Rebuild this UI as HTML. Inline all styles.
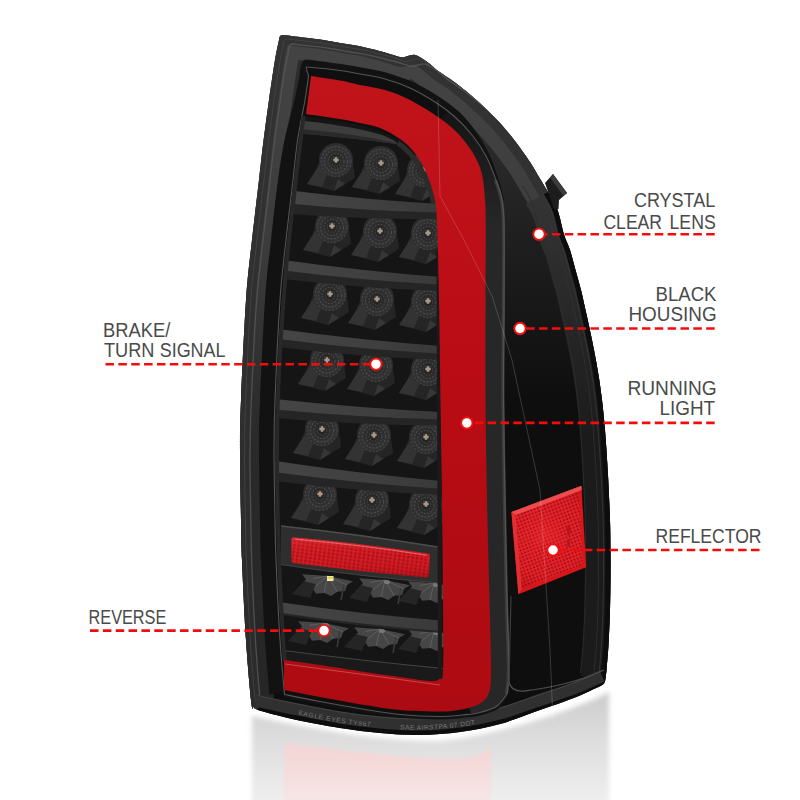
<!DOCTYPE html>
<html lang="en"><head><meta charset="utf-8"><title>Tail light features</title>
<style>html,body{margin:0;padding:0;background:#fff}body{width:800px;height:800px;overflow:hidden;font-family:"Liberation Sans",sans-serif}svg{display:block}text{font-family:"Liberation Sans",sans-serif;fill:#4a4a4a}</style>
</head><body>
<svg width="800" height="800" viewBox="0 0 800 800">
<defs>
<linearGradient id="shelfG" x1="0" y1="0" x2="1" y2="0"><stop offset="0" stop-color="#454545"/><stop offset=".6" stop-color="#3f3f3f"/><stop offset="1" stop-color="#393939"/></linearGradient>
<radialGradient id="ledG" cx=".5" cy=".5" r=".5" fx=".5" fy=".52"><stop offset="0" stop-color="#1b1b1b"/><stop offset=".3" stop-color="#282828"/><stop offset=".8" stop-color="#333"/><stop offset="1" stop-color="#2a2a2a"/></radialGradient>
<linearGradient id="redG" x1="0" y1="0" x2="0" y2="1"><stop offset="0" stop-color="#c0131a"/><stop offset=".45" stop-color="#b90c14"/><stop offset="1" stop-color="#ad0b13"/></linearGradient><linearGradient id="sideG" gradientUnits="userSpaceOnUse" x1="0" y1="110" x2="0" y2="230"><stop offset="0" stop-color="#141414"/><stop offset="1" stop-color="#272727"/></linearGradient>
<linearGradient id="bezelG" x1="0" y1="0" x2="1" y2="0"><stop offset="0" stop-color="#2e2e2e"/><stop offset=".08" stop-color="#3a3a3a"/><stop offset=".16" stop-color="#1c1c1c"/><stop offset="1" stop-color="#101010"/></linearGradient>
<linearGradient id="reflG" gradientUnits="userSpaceOnUse" x1="0" y1="700" x2="0" y2="800"><stop offset="0" stop-color="#cfcfcf"/><stop offset=".35" stop-color="#dcdcdc"/><stop offset="1" stop-color="#eeeeee"/></linearGradient>
<linearGradient id="reflR" gradientUnits="userSpaceOnUse" x1="0" y1="740" x2="0" y2="800"><stop offset="0" stop-color="#f3d3d3"/><stop offset="1" stop-color="#f7e5e5"/></linearGradient><linearGradient id="rimG" gradientUnits="userSpaceOnUse" x1="0" y1="40" x2="0" y2="700"><stop offset="0" stop-color="#444"/><stop offset=".3" stop-color="#3c3c3c"/><stop offset=".6" stop-color="#2a2a2a"/><stop offset="1" stop-color="#262626"/></linearGradient><linearGradient id="rimG2" gradientUnits="userSpaceOnUse" x1="0" y1="40" x2="0" y2="700"><stop offset="0" stop-color="#333"/><stop offset=".5" stop-color="#2f2f2f"/><stop offset="1" stop-color="#2b2b2b"/></linearGradient><linearGradient id="rgtG" gradientUnits="userSpaceOnUse" x1="0" y1="190" x2="0" y2="440"><stop offset="0" stop-color="#353535"/><stop offset=".35" stop-color="#2b2b2b"/><stop offset="1" stop-color="#1b1b1b"/></linearGradient><linearGradient id="baseG" gradientUnits="userSpaceOnUse" x1="0" y1="130" x2="0" y2="400"><stop offset="0" stop-color="#2c2c2c"/><stop offset=".5" stop-color="#1c1c1c"/><stop offset="1" stop-color="#0e0e0e"/></linearGradient>
<pattern id="dots2" width="4.4" height="3.6" patternUnits="userSpaceOnUse" patternTransform="rotate(8)"><rect width="4.4" height="3.6" fill="#d31c24"/><circle cx="2.2" cy="1.8" r="1.25" fill="#a50f16"/></pattern><pattern id="dots3" width="3.4" height="3.4" patternUnits="userSpaceOnUse" patternTransform="rotate(-20)"><rect width="3.4" height="3.4" fill="#e6222a"/><circle cx="1.7" cy="1.7" r="1.05" fill="#9e0e14"/></pattern><linearGradient id="stripG" x1="0" y1="0" x2="0" y2="1"><stop offset="0" stop-color="#ff5a5a" stop-opacity=".25"/><stop offset=".5" stop-color="#e02028" stop-opacity="0"/><stop offset="1" stop-color="#700" stop-opacity=".35"/></linearGradient><radialGradient id="sideRG" gradientUnits="userSpaceOnUse" cx="545" cy="535" r="55"><stop offset="0" stop-color="#ff3a3a" stop-opacity=".35"/><stop offset=".6" stop-color="#e02028" stop-opacity="0"/><stop offset="1" stop-color="#800" stop-opacity=".3"/></radialGradient><pattern id="dots" width="3.2" height="3.2" patternUnits="userSpaceOnUse"><rect width="3.2" height="3.2" fill="#d41a1e"/><circle cx="1.6" cy="1.6" r="1" fill="#a90e12"/></pattern>
<clipPath id="clipOut"><path d="M253.0,709.0 C252.7,707.5 252.2,711.5 251.0,700.0 C249.8,688.5 247.5,663.3 246.0,640.0 C244.5,616.7 242.8,580.0 242.0,560.0 C241.2,540.0 241.3,538.3 241.0,520.0 C240.7,501.7 240.0,470.0 240.0,450.0 C240.0,430.0 240.0,425.0 241.0,400.0 C242.0,375.0 244.2,326.7 246.0,300.0 C247.8,273.3 249.8,260.0 252.0,240.0 C254.2,220.0 257.1,196.7 259.0,180.0 C260.9,163.3 261.9,153.3 263.6,140.0 C265.3,126.7 267.1,113.3 269.0,100.0 C270.9,86.7 273.3,70.0 275.0,60.0 C276.7,50.0 278.3,43.3 279.0,40.0 Q279,35 283,35 C289.2,35.8 310.5,38.2 320.0,39.5 C329.5,40.8 333.3,41.9 340.0,43.0 C346.7,44.1 352.5,44.7 360.0,46.3 C367.5,47.9 378.2,50.7 385.0,52.5 C391.8,54.3 397.2,56.7 401.0,57.3 C404.8,57.9 405.7,56.4 408.0,56.0 C410.3,55.6 412.6,54.5 415.0,55.0 C417.4,55.5 420.0,57.2 422.5,58.7 C425.0,60.2 427.5,62.0 430.0,64.0 C432.5,66.0 433.3,67.4 437.5,70.5 C441.7,73.6 449.6,78.5 455.0,82.5 C460.4,86.5 465.0,90.2 470.0,94.5 C475.0,98.8 480.0,103.2 485.0,108.0 C490.0,112.8 495.0,117.5 500.0,123.0 C505.0,128.5 510.0,134.5 515.0,141.0 C520.0,147.5 526.0,156.0 530.0,162.0 C534.0,168.0 536.0,172.0 539.0,177.0 C542.0,182.0 546.5,189.5 548.0,192.0 C549.6,195.0 554.8,202.9 557.5,210.0 C560.2,217.1 561.9,227.8 564.0,234.5 C566.1,241.2 568.1,244.1 570.0,250.0 C571.9,255.9 573.7,263.3 575.5,270.0 C577.3,276.7 579.3,283.3 581.0,290.0 C582.7,296.7 584.1,303.7 585.5,310.0 C586.9,316.3 588.1,321.3 589.5,328.0 C590.9,334.7 592.5,342.2 594.0,350.0 C595.5,357.8 597.2,366.7 598.5,375.0 C599.8,383.3 600.9,390.8 602.0,400.0 C603.1,409.2 604.0,417.5 605.0,430.0 C606.0,442.5 607.2,460.0 608.0,475.0 C608.8,490.0 609.6,507.5 610.0,520.0 C610.4,532.5 610.4,540.0 610.5,550.0 C610.6,560.0 610.6,570.0 610.5,580.0 C610.4,590.0 610.3,599.2 610.0,610.0 C609.7,620.8 609.1,635.0 608.5,645.0 C607.9,655.0 607.0,664.3 606.5,670.0 C606.0,675.7 605.7,677.5 605.5,679.0 Q605,684 601.5,685.5 C597.1,687.5 585.2,693.4 575.0,697.5 C564.8,701.6 552.5,705.6 540.0,710.0 C527.5,714.4 513.3,720.3 500.0,724.0 C486.7,727.7 473.3,730.2 460.0,732.0 C446.7,733.8 433.3,734.8 420.0,735.0 C406.7,735.2 393.3,734.2 380.0,733.0 C366.7,731.8 355.0,730.4 340.0,728.0 C325.0,725.6 303.7,721.5 290.0,718.5 C276.3,715.5 263.3,711.4 258.0,710.0 Q254,709 253,706 Z"/></clipPath>
<filter id="b2"><feGaussianBlur stdDeviation="1.5"/></filter><filter id="b3" x="-5%" y="-5%" width="110%" height="120%"><feGaussianBlur stdDeviation="2.5"/></filter>
<filter id="b6"><feGaussianBlur stdDeviation="6"/></filter>
</defs>
<rect width="800" height="800" fill="#fff"/>
<g filter="url(#b3)">
<path d="M252,716 C300,726 380,742 440,741 C500,734 570,712 609,692 L609,810 L252,810 Z" fill="url(#reflG)"/>
</g>
<g filter="url(#b2)">
<path d="M284,743 C340,750 420,760 462,758 C478,757 488,752 491,744 L491,810 L284,810 Z" fill="url(#reflR)"/>
</g>
<path d="M253.0,709.0 C252.7,707.5 252.2,711.5 251.0,700.0 C249.8,688.5 247.5,663.3 246.0,640.0 C244.5,616.7 242.8,580.0 242.0,560.0 C241.2,540.0 241.3,538.3 241.0,520.0 C240.7,501.7 240.0,470.0 240.0,450.0 C240.0,430.0 240.0,425.0 241.0,400.0 C242.0,375.0 244.2,326.7 246.0,300.0 C247.8,273.3 249.8,260.0 252.0,240.0 C254.2,220.0 257.1,196.7 259.0,180.0 C260.9,163.3 261.9,153.3 263.6,140.0 C265.3,126.7 267.1,113.3 269.0,100.0 C270.9,86.7 273.3,70.0 275.0,60.0 C276.7,50.0 278.3,43.3 279.0,40.0 Q279,35 283,35 C289.2,35.8 310.5,38.2 320.0,39.5 C329.5,40.8 333.3,41.9 340.0,43.0 C346.7,44.1 352.5,44.7 360.0,46.3 C367.5,47.9 378.2,50.7 385.0,52.5 C391.8,54.3 397.2,56.7 401.0,57.3 C404.8,57.9 405.7,56.4 408.0,56.0 C410.3,55.6 412.6,54.5 415.0,55.0 C417.4,55.5 420.0,57.2 422.5,58.7 C425.0,60.2 427.5,62.0 430.0,64.0 C432.5,66.0 433.3,67.4 437.5,70.5 C441.7,73.6 449.6,78.5 455.0,82.5 C460.4,86.5 465.0,90.2 470.0,94.5 C475.0,98.8 480.0,103.2 485.0,108.0 C490.0,112.8 495.0,117.5 500.0,123.0 C505.0,128.5 510.0,134.5 515.0,141.0 C520.0,147.5 526.0,156.0 530.0,162.0 C534.0,168.0 536.0,172.0 539.0,177.0 C542.0,182.0 546.5,189.5 548.0,192.0 C549.6,195.0 554.8,202.9 557.5,210.0 C560.2,217.1 561.9,227.8 564.0,234.5 C566.1,241.2 568.1,244.1 570.0,250.0 C571.9,255.9 573.7,263.3 575.5,270.0 C577.3,276.7 579.3,283.3 581.0,290.0 C582.7,296.7 584.1,303.7 585.5,310.0 C586.9,316.3 588.1,321.3 589.5,328.0 C590.9,334.7 592.5,342.2 594.0,350.0 C595.5,357.8 597.2,366.7 598.5,375.0 C599.8,383.3 600.9,390.8 602.0,400.0 C603.1,409.2 604.0,417.5 605.0,430.0 C606.0,442.5 607.2,460.0 608.0,475.0 C608.8,490.0 609.6,507.5 610.0,520.0 C610.4,532.5 610.4,540.0 610.5,550.0 C610.6,560.0 610.6,570.0 610.5,580.0 C610.4,590.0 610.3,599.2 610.0,610.0 C609.7,620.8 609.1,635.0 608.5,645.0 C607.9,655.0 607.0,664.3 606.5,670.0 C606.0,675.7 605.7,677.5 605.5,679.0 Q605,684 601.5,685.5 C597.1,687.5 585.2,693.4 575.0,697.5 C564.8,701.6 552.5,705.6 540.0,710.0 C527.5,714.4 513.3,720.3 500.0,724.0 C486.7,727.7 473.3,730.2 460.0,732.0 C446.7,733.8 433.3,734.8 420.0,735.0 C406.7,735.2 393.3,734.2 380.0,733.0 C366.7,731.8 355.0,730.4 340.0,728.0 C325.0,725.6 303.7,721.5 290.0,718.5 C276.3,715.5 263.3,711.4 258.0,710.0 Q254,709 253,706 Z" fill="url(#baseG)"/>
<g clip-path="url(#clipOut)">
<path d="M253.0,709.0 C252.7,707.5 252.2,711.5 251.0,700.0 C249.8,688.5 247.5,663.3 246.0,640.0 C244.5,616.7 242.8,580.0 242.0,560.0 C241.2,540.0 241.3,538.3 241.0,520.0 C240.7,501.7 240.0,470.0 240.0,450.0 C240.0,430.0 240.0,425.0 241.0,400.0 C242.0,375.0 244.2,326.7 246.0,300.0 C247.8,273.3 249.8,260.0 252.0,240.0 C254.2,220.0 257.1,196.7 259.0,180.0 C260.9,163.3 261.9,153.3 263.6,140.0 C265.3,126.7 267.1,113.3 269.0,100.0 C270.9,86.7 273.3,70.0 275.0,60.0 C276.7,50.0 278.3,43.3 279.0,40.0 Q279,35 283,35 C289.2,35.8 310.5,38.2 320.0,39.5 C329.5,40.8 333.3,41.9 340.0,43.0 C346.7,44.1 352.5,44.7 360.0,46.3 C367.5,47.9 378.2,50.7 385.0,52.5 C391.8,54.3 397.2,56.7 401.0,57.3 C404.8,57.9 405.7,56.4 408.0,56.0 C410.3,55.6 412.6,54.5 415.0,55.0 C417.4,55.5 420.0,57.2 422.5,58.7 C425.0,60.2 427.5,62.0 430.0,64.0 C432.5,66.0 433.3,67.4 437.5,70.5 C441.7,73.6 449.6,78.5 455.0,82.5 C460.4,86.5 465.0,90.2 470.0,94.5 C475.0,98.8 480.0,103.2 485.0,108.0 C490.0,112.8 495.0,117.5 500.0,123.0 C505.0,128.5 510.0,134.5 515.0,141.0 C520.0,147.5 526.0,156.0 530.0,162.0 C534.0,168.0 536.0,172.0 539.0,177.0 C542.0,182.0 546.5,189.5 548.0,192.0" fill="none" stroke="url(#rimG)" stroke-width="46" stroke-linejoin="round" stroke-linecap="round"/>
<path d="M253.0,709.0 C252.7,707.5 252.2,711.5 251.0,700.0 C249.8,688.5 247.5,663.3 246.0,640.0 C244.5,616.7 242.8,580.0 242.0,560.0 C241.2,540.0 241.3,538.3 241.0,520.0 C240.7,501.7 240.0,470.0 240.0,450.0 C240.0,430.0 240.0,425.0 241.0,400.0 C242.0,375.0 244.2,326.7 246.0,300.0 C247.8,273.3 249.8,260.0 252.0,240.0 C254.2,220.0 257.1,196.7 259.0,180.0 C260.9,163.3 261.9,153.3 263.6,140.0 C265.3,126.7 267.1,113.3 269.0,100.0 C270.9,86.7 273.3,70.0 275.0,60.0 C276.7,50.0 278.3,43.3 279.0,40.0 Q279,35 283,35 C289.2,35.8 310.5,38.2 320.0,39.5 C329.5,40.8 333.3,41.9 340.0,43.0 C346.7,44.1 352.5,44.7 360.0,46.3 C367.5,47.9 378.2,50.7 385.0,52.5 C391.8,54.3 397.2,56.7 401.0,57.3 C404.8,57.9 405.7,56.4 408.0,56.0 C410.3,55.6 412.6,54.5 415.0,55.0 C417.4,55.5 420.0,57.2 422.5,58.7 C425.0,60.2 427.5,62.0 430.0,64.0 C432.5,66.0 433.3,67.4 437.5,70.5 C441.7,73.6 449.6,78.5 455.0,82.5 C460.4,86.5 465.0,90.2 470.0,94.5 C475.0,98.8 480.0,103.2 485.0,108.0 C490.0,112.8 495.0,117.5 500.0,123.0 C505.0,128.5 510.0,134.5 515.0,141.0 C520.0,147.5 526.0,156.0 530.0,162.0 C534.0,168.0 536.0,172.0 539.0,177.0 C542.0,182.0 546.5,189.5 548.0,192.0" fill="none" stroke="url(#rimG2)" stroke-width="19" stroke-linejoin="round"/>
<path d="M253.0,709.0 C252.7,707.5 252.2,711.5 251.0,700.0 C249.8,688.5 247.5,663.3 246.0,640.0 C244.5,616.7 242.8,580.0 242.0,560.0 C241.2,540.0 241.3,538.3 241.0,520.0 C240.7,501.7 240.0,470.0 240.0,450.0 C240.0,430.0 240.0,425.0 241.0,400.0 C242.0,375.0 244.2,326.7 246.0,300.0 C247.8,273.3 249.8,260.0 252.0,240.0 C254.2,220.0 257.1,196.7 259.0,180.0 C260.9,163.3 261.9,153.3 263.6,140.0 C265.3,126.7 267.1,113.3 269.0,100.0 C270.9,86.7 273.3,70.0 275.0,60.0 C276.7,50.0 278.3,43.3 279.0,40.0 Q279,35 283,35 C289.2,35.8 310.5,38.2 320.0,39.5 C329.5,40.8 333.3,41.9 340.0,43.0 C346.7,44.1 352.5,44.7 360.0,46.3 C367.5,47.9 378.2,50.7 385.0,52.5 C391.8,54.3 397.2,56.7 401.0,57.3 C404.8,57.9 405.7,56.4 408.0,56.0 C410.3,55.6 412.6,54.5 415.0,55.0 C417.4,55.5 420.0,57.2 422.5,58.7 C425.0,60.2 427.5,62.0 430.0,64.0 C432.5,66.0 433.3,67.4 437.5,70.5 C441.7,73.6 449.6,78.5 455.0,82.5 C460.4,86.5 465.0,90.2 470.0,94.5 C475.0,98.8 480.0,103.2 485.0,108.0 C490.0,112.8 495.0,117.5 500.0,123.0 C505.0,128.5 510.0,134.5 515.0,141.0 C520.0,147.5 526.0,156.0 530.0,162.0 C534.0,168.0 536.0,172.0 539.0,177.0 C542.0,182.0 546.5,189.5 548.0,192.0" fill="none" stroke="#565656" stroke-width="1.3" opacity=".85" transform="translate(10,9)"/>
<path d="M253.0,709.0 C252.7,707.5 252.2,711.5 251.0,700.0 C249.8,688.5 247.5,663.3 246.0,640.0 C244.5,616.7 242.8,580.0 242.0,560.0 C241.2,540.0 241.3,538.3 241.0,520.0 C240.7,501.7 240.0,470.0 240.0,450.0 C240.0,430.0 240.0,425.0 241.0,400.0 C242.0,375.0 244.2,326.7 246.0,300.0 C247.8,273.3 249.8,260.0 252.0,240.0 C254.2,220.0 257.1,196.7 259.0,180.0 C260.9,163.3 261.9,153.3 263.6,140.0 C265.3,126.7 267.1,113.3 269.0,100.0 C270.9,86.7 273.3,70.0 275.0,60.0 C276.7,50.0 278.3,43.3 279.0,40.0 Q279,35 283,35 C289.2,35.8 310.5,38.2 320.0,39.5 C329.5,40.8 333.3,41.9 340.0,43.0 C346.7,44.1 352.5,44.7 360.0,46.3 C367.5,47.9 378.2,50.7 385.0,52.5 C391.8,54.3 397.2,56.7 401.0,57.3 C404.8,57.9 405.7,56.4 408.0,56.0 C410.3,55.6 412.6,54.5 415.0,55.0 C417.4,55.5 420.0,57.2 422.5,58.7 C425.0,60.2 427.5,62.0 430.0,64.0 C432.5,66.0 433.3,67.4 437.5,70.5 C441.7,73.6 449.6,78.5 455.0,82.5 C460.4,86.5 465.0,90.2 470.0,94.5 C475.0,98.8 480.0,103.2 485.0,108.0 C490.0,112.8 495.0,117.5 500.0,123.0 C505.0,128.5 510.0,134.5 515.0,141.0 C520.0,147.5 526.0,156.0 530.0,162.0 C534.0,168.0 536.0,172.0 539.0,177.0 C542.0,182.0 546.5,189.5 548.0,192.0" fill="none" stroke="#484848" stroke-width="1" opacity=".7" transform="translate(4.5,4)"/>
<path d="M548.0,192.0 C549.6,195.0 554.8,202.9 557.5,210.0 C560.2,217.1 561.9,227.8 564.0,234.5 C566.1,241.2 568.1,244.1 570.0,250.0 C571.9,255.9 573.7,263.3 575.5,270.0 C577.3,276.7 579.3,283.3 581.0,290.0 C582.7,296.7 584.1,303.7 585.5,310.0 C586.9,316.3 588.1,321.3 589.5,328.0 C590.9,334.7 592.5,342.2 594.0,350.0 C595.5,357.8 597.2,366.7 598.5,375.0 C599.8,383.3 600.9,390.8 602.0,400.0 C603.1,409.2 604.0,417.5 605.0,430.0 C606.0,442.5 607.2,460.0 608.0,475.0 C608.8,490.0 609.6,507.5 610.0,520.0 C610.4,532.5 610.4,540.0 610.5,550.0 C610.6,560.0 610.6,570.0 610.5,580.0 C610.4,590.0 610.3,599.2 610.0,610.0 C609.7,620.8 609.1,635.0 608.5,645.0 C607.9,655.0 607.0,664.3 606.5,670.0 C606.0,675.7 605.7,677.5 605.5,679.0" fill="none" stroke="url(#rgtG)" stroke-width="50"/>
<path d="M548.0,192.0 C549.6,195.0 554.8,202.9 557.5,210.0 C560.2,217.1 561.9,227.8 564.0,234.5 C566.1,241.2 568.1,244.1 570.0,250.0 C571.9,255.9 573.7,263.3 575.5,270.0 C577.3,276.7 579.3,283.3 581.0,290.0 C582.7,296.7 584.1,303.7 585.5,310.0 C586.9,316.3 588.1,321.3 589.5,328.0 C590.9,334.7 592.5,342.2 594.0,350.0 C595.5,357.8 597.2,366.7 598.5,375.0 C599.8,383.3 600.9,390.8 602.0,400.0 C603.1,409.2 604.0,417.5 605.0,430.0 C606.0,442.5 607.2,460.0 608.0,475.0 C608.8,490.0 609.6,507.5 610.0,520.0 C610.4,532.5 610.4,540.0 610.5,550.0 C610.6,560.0 610.6,570.0 610.5,580.0 C610.4,590.0 610.3,599.2 610.0,610.0 C609.7,620.8 609.1,635.0 608.5,645.0 C607.9,655.0 607.0,664.3 606.5,670.0 C606.0,675.7 605.7,677.5 605.5,679.0 Q605,684 601.5,685.5 C597.1,687.5 585.2,693.4 575.0,697.5 C564.8,701.6 552.5,705.6 540.0,710.0 C527.5,714.4 513.3,720.3 500.0,724.0 C486.7,727.7 473.3,730.2 460.0,732.0 C446.7,733.8 433.3,734.8 420.0,735.0 C406.7,735.2 393.3,734.2 380.0,733.0 C366.7,731.8 355.0,730.4 340.0,728.0 C325.0,725.6 303.7,721.5 290.0,718.5 C276.3,715.5 263.3,711.4 258.0,710.0" fill="none" stroke="#0d0d0d" stroke-width="10"/>
<path d="M548.0,192.0 C549.6,195.0 554.8,202.9 557.5,210.0 C560.2,217.1 561.9,227.8 564.0,234.5 C566.1,241.2 568.1,244.1 570.0,250.0 C571.9,255.9 573.7,263.3 575.5,270.0 C577.3,276.7 579.3,283.3 581.0,290.0 C582.7,296.7 584.1,303.7 585.5,310.0 C586.9,316.3 588.1,321.3 589.5,328.0 C590.9,334.7 592.5,342.2 594.0,350.0 C595.5,357.8 597.2,366.7 598.5,375.0 C599.8,383.3 600.9,390.8 602.0,400.0 C603.1,409.2 604.0,417.5 605.0,430.0 C606.0,442.5 607.2,460.0 608.0,475.0 C608.8,490.0 609.6,507.5 610.0,520.0 C610.4,532.5 610.4,540.0 610.5,550.0 C610.6,560.0 610.6,570.0 610.5,580.0 C610.4,590.0 610.3,599.2 610.0,610.0 C609.7,620.8 609.1,635.0 608.5,645.0 C607.9,655.0 607.0,664.3 606.5,670.0 C606.0,675.7 605.7,677.5 605.5,679.0" fill="none" stroke="#3c3c3c" stroke-width="1" opacity=".75" transform="translate(-7,-2)"/>
<path d="M548.0,192.0 C549.6,195.0 554.8,202.9 557.5,210.0 C560.2,217.1 561.9,227.8 564.0,234.5 C566.1,241.2 568.1,244.1 570.0,250.0 C571.9,255.9 573.7,263.3 575.5,270.0 C577.3,276.7 579.3,283.3 581.0,290.0 C582.7,296.7 584.1,303.7 585.5,310.0 C586.9,316.3 588.1,321.3 589.5,328.0 C590.9,334.7 592.5,342.2 594.0,350.0 C595.5,357.8 597.2,366.7 598.5,375.0 C599.8,383.3 600.9,390.8 602.0,400.0 C603.1,409.2 604.0,417.5 605.0,430.0 C606.0,442.5 607.2,460.0 608.0,475.0 C608.8,490.0 609.6,507.5 610.0,520.0 C610.4,532.5 610.4,540.0 610.5,550.0 C610.6,560.0 610.6,570.0 610.5,580.0 C610.4,590.0 610.3,599.2 610.0,610.0 C609.7,620.8 609.1,635.0 608.5,645.0 C607.9,655.0 607.0,664.3 606.5,670.0 C606.0,675.7 605.7,677.5 605.5,679.0" fill="none" stroke="#353535" stroke-width="1" opacity=".7" transform="translate(-12,-3)"/>
<path d="M548.0,192.0 C549.6,195.0 554.8,202.9 557.5,210.0 C560.2,217.1 561.9,227.8 564.0,234.5 C566.1,241.2 568.1,244.1 570.0,250.0 C571.9,255.9 573.7,263.3 575.5,270.0 C577.3,276.7 579.3,283.3 581.0,290.0 C582.7,296.7 584.1,303.7 585.5,310.0 C586.9,316.3 588.1,321.3 589.5,328.0 C590.9,334.7 592.5,342.2 594.0,350.0 C595.5,357.8 597.2,366.7 598.5,375.0 C599.8,383.3 600.9,390.8 602.0,400.0 C603.1,409.2 604.0,417.5 605.0,430.0 C606.0,442.5 607.2,460.0 608.0,475.0 C608.8,490.0 609.6,507.5 610.0,520.0 C610.4,532.5 610.4,540.0 610.5,550.0 C610.6,560.0 610.6,570.0 610.5,580.0 C610.4,590.0 610.3,599.2 610.0,610.0 C609.7,620.8 609.1,635.0 608.5,645.0 C607.9,655.0 607.0,664.3 606.5,670.0 C606.0,675.7 605.7,677.5 605.5,679.0" fill="none" stroke="#2e2e2e" stroke-width="1.2" opacity=".8" transform="translate(-25,-6)"/>
<path d="M256.0,700.0 C257.0,700.3 256.3,700.7 262.0,702.0 C267.7,703.3 277.0,705.4 290.0,708.0 C303.0,710.6 325.0,715.1 340.0,717.5 C355.0,719.9 366.7,721.3 380.0,722.5 C393.3,723.7 406.7,724.7 420.0,724.5 C433.3,724.3 446.7,723.3 460.0,721.5 C473.3,719.7 486.7,717.1 500.0,713.5 C513.3,709.9 527.5,704.2 540.0,700.0 C552.5,695.8 564.7,692.0 575.0,688.0 C585.3,684.0 597.5,678.0 602.0,676.0" fill="none" stroke="#303030" stroke-width="12"/>
<path d="M256.0,700.0 C257.0,700.3 256.3,700.7 262.0,702.0 C267.7,703.3 277.0,705.4 290.0,708.0 C303.0,710.6 325.0,715.1 340.0,717.5 C355.0,719.9 366.7,721.3 380.0,722.5 C393.3,723.7 406.7,724.7 420.0,724.5 C433.3,724.3 446.7,723.3 460.0,721.5 C473.3,719.7 486.7,717.1 500.0,713.5 C513.3,709.9 527.5,704.2 540.0,700.0 C552.5,695.8 564.7,692.0 575.0,688.0 C585.3,684.0 597.5,678.0 602.0,676.0" fill="none" stroke="#4a4a4a" stroke-width="1" opacity=".8" transform="translate(0,-5.5)"/>
<path id="botp" d="M262.0,702.0 C266.7,703.0 277.0,705.4 290.0,708.0 C303.0,710.6 325.0,715.1 340.0,717.5 C355.0,719.9 366.7,721.3 380.0,722.5 C393.3,723.7 406.7,724.7 420.0,724.5 C433.3,724.3 446.7,723.3 460.0,721.5 C473.3,719.7 486.7,717.1 500.0,713.5 C513.3,709.9 527.5,704.2 540.0,700.0 C552.5,695.8 564.7,692.0 575.0,688.0 C585.3,684.0 597.5,678.0 602.0,676.0" fill="none" transform="translate(0,2.6)"/>
<text font-size="6.6" letter-spacing=".7" style="fill:#777" transform="translate(0,2.6)"><textPath href="#botp" startOffset="37">EAGLE EYES TY967</textPath></text>
<text font-size="6.6" letter-spacing=".5" style="fill:#777" transform="translate(0,2.6)"><textPath href="#botp" startOffset="140">SAE AIRSTPA 07 DOT</textPath></text>
</g>
<path d="M545,183 L553,174 L567,193 L559,200 L558.5,209 L554,209 Z" fill="#1d1d1d"/>
<path d="M553,174 L567,193 L563.5,196 L550,177.5 Z" fill="#3c3c3c"/>
<g clip-path="url(#clipOut)">
<path d="M269.5,694.5 C268.8,685.4 266.4,662.4 265.0,640.0 C263.6,617.6 261.8,580.0 261.0,560.0 C260.2,540.0 260.3,538.3 260.0,520.0 C259.7,501.7 259.0,470.0 259.0,450.0 C259.0,430.0 259.0,425.0 260.0,400.0 C261.0,375.0 263.2,326.7 265.0,300.0 C266.8,273.3 268.8,260.0 271.0,240.0 C273.2,220.0 275.7,196.7 278.0,180.0 C280.3,163.3 281.8,153.3 284.5,140.0 C287.3,126.7 292.0,110.7 294.5,100.0 C297.0,89.3 298.7,80.0 299.6,76.0 Q300.6,59 306.6,59.5 C312.3,60.3 331.8,62.7 340.9,64.1 C350.0,65.4 353.6,66.2 361.2,67.6 C368.9,69.1 378.2,70.3 386.8,72.7 C395.3,75.2 404.1,78.1 412.7,82.1 C421.3,86.1 430.8,91.5 438.5,96.5 C446.3,101.5 453.1,106.3 459.3,112.1 C465.6,118.0 471.1,124.7 476.1,131.8 C481.1,138.8 485.5,146.4 489.2,154.3 C493.0,162.2 496.0,171.6 498.4,179.1 C500.9,186.6 503.0,196.1 503.9,199.4 L470,300 L300,690 Z" fill="#121212"/>
<path d="M507.0,694.0 C505.3,696.0 501.5,702.9 497.0,706.0 C492.5,709.1 485.8,711.0 480.0,712.5 C474.2,714.0 468.7,714.3 462.0,715.0 C455.3,715.7 450.3,716.6 440.0,716.5 C429.7,716.4 412.5,715.7 400.0,714.5 C387.5,713.3 378.3,711.7 365.0,709.5 C351.7,707.3 333.4,704.0 320.0,701.5 C306.6,699.0 290.5,695.7 284.5,694.5" fill="none" stroke="#131313" stroke-width="6"/>
<clipPath id="clipLoop"><path d="M284.5,694.5 C283.8,685.4 281.4,662.4 280.0,640.0 C278.6,617.6 276.8,580.0 276.0,560.0 C275.2,540.0 275.3,538.3 275.0,520.0 C274.7,501.7 274.0,470.0 274.0,450.0 C274.0,430.0 274.0,425.0 275.0,400.0 C276.0,375.0 278.2,326.7 280.0,300.0 C281.8,273.3 283.8,260.0 286.0,240.0 C288.2,220.0 291.1,196.7 293.0,180.0 C294.9,163.3 295.6,153.3 297.6,140.0 C299.6,126.7 303.2,110.7 305.0,100.0 C306.8,89.3 308.0,80.0 308.6,76.0 Q305,66 307,67 C312.5,67.6 331.2,69.3 340.0,70.5 C348.8,71.7 352.5,72.6 360.0,74.0 C367.5,75.4 376.7,76.7 385.0,79.0 C393.3,81.3 401.7,84.2 410.0,88.0 C418.3,91.8 427.5,97.2 435.0,102.0 C442.5,106.8 448.8,111.5 455.0,117.0 C461.2,122.5 466.8,128.5 472.0,135.0 C477.2,141.5 482.0,148.5 486.0,156.0 C490.0,163.5 493.3,172.7 496.0,180.0 C498.7,187.3 500.7,192.5 502.0,200.0 C503.3,207.5 503.7,208.3 504.0,225.0 C504.3,241.7 504.1,270.8 504.0,300.0 C503.9,329.2 503.3,366.7 503.5,400.0 C503.7,433.3 504.4,466.7 505.0,500.0 C505.6,533.3 506.3,571.7 507.0,600.0 C507.7,628.3 509.0,654.3 509.0,670.0 C509.0,685.7 507.3,690.0 507.0,694.0 C505.3,696.0 501.5,702.9 497.0,706.0 C492.5,709.1 485.8,711.0 480.0,712.5 C474.2,714.0 468.7,714.3 462.0,715.0 C455.3,715.7 450.3,716.6 440.0,716.5 C429.7,716.4 412.5,715.7 400.0,714.5 C387.5,713.3 378.3,711.7 365.0,709.5 C351.7,707.3 333.4,704.0 320.0,701.5 C306.6,699.0 290.5,695.7 284.5,694.5 Z"/></clipPath>
<path d="M284.5,694.5 C283.8,685.4 281.4,662.4 280.0,640.0 C278.6,617.6 276.8,580.0 276.0,560.0 C275.2,540.0 275.3,538.3 275.0,520.0 C274.7,501.7 274.0,470.0 274.0,450.0 C274.0,430.0 274.0,425.0 275.0,400.0 C276.0,375.0 278.2,326.7 280.0,300.0 C281.8,273.3 283.8,260.0 286.0,240.0 C288.2,220.0 291.1,196.7 293.0,180.0 C294.9,163.3 295.6,153.3 297.6,140.0 C299.6,126.7 303.2,110.7 305.0,100.0 C306.8,89.3 308.0,80.0 308.6,76.0 Q305,66 307,67 C312.5,67.6 331.2,69.3 340.0,70.5 C348.8,71.7 352.5,72.6 360.0,74.0 C367.5,75.4 376.7,76.7 385.0,79.0 C393.3,81.3 401.7,84.2 410.0,88.0 C418.3,91.8 427.5,97.2 435.0,102.0 C442.5,106.8 448.8,111.5 455.0,117.0 C461.2,122.5 466.8,128.5 472.0,135.0 C477.2,141.5 482.0,148.5 486.0,156.0 C490.0,163.5 493.3,172.7 496.0,180.0 C498.7,187.3 500.7,192.5 502.0,200.0 C503.3,207.5 503.7,208.3 504.0,225.0 C504.3,241.7 504.1,270.8 504.0,300.0 C503.9,329.2 503.3,366.7 503.5,400.0 C503.7,433.3 504.4,466.7 505.0,500.0 C505.6,533.3 506.3,571.7 507.0,600.0 C507.7,628.3 509.0,654.3 509.0,670.0 C509.0,685.7 507.3,690.0 507.0,694.0 C505.3,696.0 501.5,702.9 497.0,706.0 C492.5,709.1 485.8,711.0 480.0,712.5 C474.2,714.0 468.7,714.3 462.0,715.0 C455.3,715.7 450.3,716.6 440.0,716.5 C429.7,716.4 412.5,715.7 400.0,714.5 C387.5,713.3 378.3,711.7 365.0,709.5 C351.7,707.3 333.4,704.0 320.0,701.5 C306.6,699.0 290.5,695.7 284.5,694.5 Z" fill="#0f0f0f"/>
<g clip-path="url(#clipLoop)"><path d="M455.0,117.0 C457.8,120.0 466.8,128.5 472.0,135.0 C477.2,141.5 482.0,148.5 486.0,156.0 C490.0,163.5 493.3,172.7 496.0,180.0 C498.7,187.3 500.7,192.5 502.0,200.0 C503.3,207.5 503.7,208.3 504.0,225.0 C504.3,241.7 504.1,270.8 504.0,300.0 C503.9,329.2 503.3,366.7 503.5,400.0 C503.7,433.3 504.4,466.7 505.0,500.0 C505.6,533.3 506.3,571.7 507.0,600.0 C507.7,628.3 509.0,654.3 509.0,670.0 C509.0,685.7 507.3,690.0 507.0,694.0 C505.3,696.0 501.5,702.9 497.0,706.0 C492.5,709.1 482.8,711.4 480.0,712.5" fill="none" stroke="url(#sideG)" stroke-width="26" transform="translate(-10,-2)"/></g>
<path d="M496.0,180.0 C497.0,183.3 500.7,192.5 502.0,200.0 C503.3,207.5 503.7,208.3 504.0,225.0 C504.3,241.7 504.1,270.8 504.0,300.0 C503.9,329.2 503.3,366.7 503.5,400.0 C503.7,433.3 504.4,466.7 505.0,500.0 C505.6,533.3 506.3,571.7 507.0,600.0 C507.7,628.3 509.0,654.3 509.0,670.0 C509.0,685.7 507.3,690.0 507.0,694.0" fill="none" stroke="#3c3c3c" stroke-width="3.2" transform="translate(-.6,0)"/>
<path d="M284.5,694.5 C283.8,685.4 281.4,662.4 280.0,640.0 C278.6,617.6 276.8,580.0 276.0,560.0 C275.2,540.0 275.3,538.3 275.0,520.0 C274.7,501.7 274.0,470.0 274.0,450.0 C274.0,430.0 274.0,425.0 275.0,400.0 C276.0,375.0 278.2,326.7 280.0,300.0 C281.8,273.3 283.8,260.0 286.0,240.0 C288.2,220.0 291.1,196.7 293.0,180.0 C294.9,163.3 295.6,153.3 297.6,140.0 C299.6,126.7 303.2,110.7 305.0,100.0 C306.8,89.3 308.0,80.0 308.6,76.0 Q305,66 307,67 C312.5,67.6 331.2,69.3 340.0,70.5 C348.8,71.7 352.5,72.6 360.0,74.0 C367.5,75.4 376.7,76.7 385.0,79.0 C393.3,81.3 401.7,84.2 410.0,88.0 C418.3,91.8 427.5,97.2 435.0,102.0 C442.5,106.8 448.8,111.5 455.0,117.0 C461.2,122.5 466.8,128.5 472.0,135.0 C477.2,141.5 482.0,148.5 486.0,156.0 C490.0,163.5 493.3,172.7 496.0,180.0 C498.7,187.3 500.7,192.5 502.0,200.0 C503.3,207.5 503.7,208.3 504.0,225.0 C504.3,241.7 504.1,270.8 504.0,300.0 C503.9,329.2 503.3,366.7 503.5,400.0 C503.7,433.3 504.4,466.7 505.0,500.0 C505.6,533.3 506.3,571.7 507.0,600.0 C507.7,628.3 509.0,654.3 509.0,670.0 C509.0,685.7 507.3,690.0 507.0,694.0 C505.3,696.0 501.5,702.9 497.0,706.0 C492.5,709.1 485.8,711.0 480.0,712.5 C474.2,714.0 468.7,714.3 462.0,715.0 C455.3,715.7 450.3,716.6 440.0,716.5 C429.7,716.4 412.5,715.7 400.0,714.5 C387.5,713.3 378.3,711.7 365.0,709.5 C351.7,707.3 333.4,704.0 320.0,701.5 C306.6,699.0 290.5,695.7 284.5,694.5 Z" fill="none" stroke="#555" stroke-width="1.1"/>
</g>
<clipPath id="clipCh"><path d="M301.8,116 C300.9,123.3 298.0,146.0 296.3,160.0 C294.6,174.0 293.6,183.3 291.7,200.0 C289.8,216.7 287.0,238.3 285.0,260.0 C283.0,281.7 281.0,306.7 279.5,330.0 C278.0,353.3 276.7,378.3 276.0,400.0 C275.3,421.7 275.1,438.3 275.1,460.0 C275.2,481.7 275.6,506.7 276.2,530.0 C276.9,553.3 277.9,578.0 279.0,600.0 C280.1,622.0 282.2,651.7 282.8,662.0 L444,684 L442,240 C441.3,233.3 440.3,211.3 438.0,200.0 C435.7,188.7 432.0,180.0 428.0,172.0 C424.0,164.0 419.0,157.5 414.0,152.0 C409.0,146.5 405.3,143.0 398.0,139.0 C390.7,135.0 379.7,131.0 370.0,128.0 C360.3,125.0 351.4,123.0 340.0,121.0 C328.6,119.0 308.2,116.8 301.8,116.0 Z"/></clipPath>
<path d="M301.8,116 C300.9,123.3 298.0,146.0 296.3,160.0 C294.6,174.0 293.6,183.3 291.7,200.0 C289.8,216.7 287.0,238.3 285.0,260.0 C283.0,281.7 281.0,306.7 279.5,330.0 C278.0,353.3 276.7,378.3 276.0,400.0 C275.3,421.7 275.1,438.3 275.1,460.0 C275.2,481.7 275.6,506.7 276.2,530.0 C276.9,553.3 277.9,578.0 279.0,600.0 C280.1,622.0 282.2,651.7 282.8,662.0 L444,684 L442,240 C441.3,233.3 440.3,211.3 438.0,200.0 C435.7,188.7 432.0,180.0 428.0,172.0 C424.0,164.0 419.0,157.5 414.0,152.0 C409.0,146.5 405.3,143.0 398.0,139.0 C390.7,135.0 379.7,131.0 370.0,128.0 C360.3,125.0 351.4,123.0 340.0,121.0 C328.6,119.0 308.2,116.8 301.8,116.0 Z" fill="#151515"/>
<g clip-path="url(#clipCh)">
<path d="M408.0,168.0 C405.0,180.0 399.0,188.0 395.0,194.0 L422.0,201.0 L443.0,188.0 C442.0,180.0 441.0,172.0 440.0,168.0 Z" fill="#252525"/><path d="M422.0,201.0 L426.0,189.0 L433.0,194.0 Z" fill="#363636"/><path d="M408.0,174.0 L395.0,194.0 L410.0,197.0 L415.0,185.0 Z" fill="#333"/><circle cx="424.0" cy="170.0" r="17" fill="url(#ledG)"/><circle cx="424.0" cy="171.5" r="15.0" fill="none" stroke="#6a6a6a" stroke-width="1.1" stroke-dasharray="2.2 1.6" opacity="0.42"/><circle cx="424.0" cy="171.5" r="11.5" fill="none" stroke="#6a6a6a" stroke-width="1.1" stroke-dasharray="2 1.5" opacity="0.48"/><circle cx="424.0" cy="171.5" r="8.0" fill="none" stroke="#6a6a6a" stroke-width="1.1" stroke-dasharray="1.8 1.4" opacity="0.48"/><circle cx="424.0" cy="171.5" r="4.8" fill="none" stroke="#6a6a6a" stroke-width="1.1" stroke-dasharray="1.5 1.2" opacity="0.42"/><path d="M422.7,167.3 h2.6 v1.4 h1.4 v2.6 h-1.4 v1.4 h-2.6 v-1.4 h-1.4 v-2.6 h1.4 z" fill="#a89888"/>
<path d="M365.0,161.0 C362.0,173.0 356.0,181.0 352.0,187.0 L379.0,194.0 L400.0,181.0 C399.0,173.0 398.0,165.0 397.0,161.0 Z" fill="#252525"/><path d="M379.0,194.0 L383.0,182.0 L390.0,187.0 Z" fill="#363636"/><path d="M365.0,167.0 L352.0,187.0 L367.0,190.0 L372.0,178.0 Z" fill="#333"/><circle cx="381.0" cy="163.0" r="17" fill="url(#ledG)"/><circle cx="381.0" cy="164.5" r="15.0" fill="none" stroke="#6a6a6a" stroke-width="1.1" stroke-dasharray="2.2 1.6" opacity="0.42"/><circle cx="381.0" cy="164.5" r="11.5" fill="none" stroke="#6a6a6a" stroke-width="1.1" stroke-dasharray="2 1.5" opacity="0.48"/><circle cx="381.0" cy="164.5" r="8.0" fill="none" stroke="#6a6a6a" stroke-width="1.1" stroke-dasharray="1.8 1.4" opacity="0.48"/><circle cx="381.0" cy="164.5" r="4.8" fill="none" stroke="#6a6a6a" stroke-width="1.1" stroke-dasharray="1.5 1.2" opacity="0.42"/><path d="M379.7,160.3 h2.6 v1.4 h1.4 v2.6 h-1.4 v1.4 h-2.6 v-1.4 h-1.4 v-2.6 h1.4 z" fill="#a89888"/>
<path d="M320.0,158.0 C317.0,170.0 311.0,178.0 307.0,184.0 L334.0,191.0 L355.0,178.0 C354.0,170.0 353.0,162.0 352.0,158.0 Z" fill="#252525"/><path d="M334.0,191.0 L338.0,179.0 L345.0,184.0 Z" fill="#363636"/><path d="M320.0,164.0 L307.0,184.0 L322.0,187.0 L327.0,175.0 Z" fill="#333"/><circle cx="336.0" cy="160.0" r="17" fill="url(#ledG)"/><circle cx="336.0" cy="161.5" r="15.0" fill="none" stroke="#6a6a6a" stroke-width="1.1" stroke-dasharray="2.2 1.6" opacity="0.42"/><circle cx="336.0" cy="161.5" r="11.5" fill="none" stroke="#6a6a6a" stroke-width="1.1" stroke-dasharray="2 1.5" opacity="0.48"/><circle cx="336.0" cy="161.5" r="8.0" fill="none" stroke="#6a6a6a" stroke-width="1.1" stroke-dasharray="1.8 1.4" opacity="0.48"/><circle cx="336.0" cy="161.5" r="4.8" fill="none" stroke="#6a6a6a" stroke-width="1.1" stroke-dasharray="1.5 1.2" opacity="0.42"/><path d="M334.7,157.3 h2.6 v1.4 h1.4 v2.6 h-1.4 v1.4 h-2.6 v-1.4 h-1.4 v-2.6 h1.4 z" fill="#a89888"/>
<path d="M412.0,231.0 C409.0,243.0 403.0,251.0 399.0,257.0 L426.0,264.0 L447.0,251.0 C446.0,243.0 445.0,235.0 444.0,231.0 Z" fill="#252525"/><path d="M426.0,264.0 L430.0,252.0 L437.0,257.0 Z" fill="#363636"/><path d="M412.0,237.0 L399.0,257.0 L414.0,260.0 L419.0,248.0 Z" fill="#333"/><circle cx="428.0" cy="233.0" r="17" fill="url(#ledG)"/><circle cx="428.0" cy="234.5" r="15.0" fill="none" stroke="#6a6a6a" stroke-width="1.1" stroke-dasharray="2.2 1.6" opacity="0.42"/><circle cx="428.0" cy="234.5" r="11.5" fill="none" stroke="#6a6a6a" stroke-width="1.1" stroke-dasharray="2 1.5" opacity="0.48"/><circle cx="428.0" cy="234.5" r="8.0" fill="none" stroke="#6a6a6a" stroke-width="1.1" stroke-dasharray="1.8 1.4" opacity="0.48"/><circle cx="428.0" cy="234.5" r="4.8" fill="none" stroke="#6a6a6a" stroke-width="1.1" stroke-dasharray="1.5 1.2" opacity="0.42"/><path d="M426.7,230.3 h2.6 v1.4 h1.4 v2.6 h-1.4 v1.4 h-2.6 v-1.4 h-1.4 v-2.6 h1.4 z" fill="#a89888"/>
<path d="M364.0,229.0 C361.0,241.0 355.0,249.0 351.0,255.0 L378.0,262.0 L399.0,249.0 C398.0,241.0 397.0,233.0 396.0,229.0 Z" fill="#252525"/><path d="M378.0,262.0 L382.0,250.0 L389.0,255.0 Z" fill="#363636"/><path d="M364.0,235.0 L351.0,255.0 L366.0,258.0 L371.0,246.0 Z" fill="#333"/><circle cx="380.0" cy="231.0" r="17" fill="url(#ledG)"/><circle cx="380.0" cy="232.5" r="15.0" fill="none" stroke="#6a6a6a" stroke-width="1.1" stroke-dasharray="2.2 1.6" opacity="0.42"/><circle cx="380.0" cy="232.5" r="11.5" fill="none" stroke="#6a6a6a" stroke-width="1.1" stroke-dasharray="2 1.5" opacity="0.48"/><circle cx="380.0" cy="232.5" r="8.0" fill="none" stroke="#6a6a6a" stroke-width="1.1" stroke-dasharray="1.8 1.4" opacity="0.48"/><circle cx="380.0" cy="232.5" r="4.8" fill="none" stroke="#6a6a6a" stroke-width="1.1" stroke-dasharray="1.5 1.2" opacity="0.42"/><path d="M378.7,228.3 h2.6 v1.4 h1.4 v2.6 h-1.4 v1.4 h-2.6 v-1.4 h-1.4 v-2.6 h1.4 z" fill="#a89888"/>
<path d="M316.0,224.0 C313.0,236.0 307.0,244.0 303.0,250.0 L330.0,257.0 L351.0,244.0 C350.0,236.0 349.0,228.0 348.0,224.0 Z" fill="#252525"/><path d="M330.0,257.0 L334.0,245.0 L341.0,250.0 Z" fill="#363636"/><path d="M316.0,230.0 L303.0,250.0 L318.0,253.0 L323.0,241.0 Z" fill="#333"/><circle cx="332.0" cy="226.0" r="17" fill="url(#ledG)"/><circle cx="332.0" cy="227.5" r="15.0" fill="none" stroke="#6a6a6a" stroke-width="1.1" stroke-dasharray="2.2 1.6" opacity="0.42"/><circle cx="332.0" cy="227.5" r="11.5" fill="none" stroke="#6a6a6a" stroke-width="1.1" stroke-dasharray="2 1.5" opacity="0.48"/><circle cx="332.0" cy="227.5" r="8.0" fill="none" stroke="#6a6a6a" stroke-width="1.1" stroke-dasharray="1.8 1.4" opacity="0.48"/><circle cx="332.0" cy="227.5" r="4.8" fill="none" stroke="#6a6a6a" stroke-width="1.1" stroke-dasharray="1.5 1.2" opacity="0.42"/><path d="M330.7,223.3 h2.6 v1.4 h1.4 v2.6 h-1.4 v1.4 h-2.6 v-1.4 h-1.4 v-2.6 h1.4 z" fill="#a89888"/>
<path d="M412.0,299.0 C409.0,311.0 403.0,319.0 399.0,325.0 L426.0,332.0 L447.0,319.0 C446.0,311.0 445.0,303.0 444.0,299.0 Z" fill="#252525"/><path d="M426.0,332.0 L430.0,320.0 L437.0,325.0 Z" fill="#363636"/><path d="M412.0,305.0 L399.0,325.0 L414.0,328.0 L419.0,316.0 Z" fill="#333"/><circle cx="428.0" cy="301.0" r="17" fill="url(#ledG)"/><circle cx="428.0" cy="302.5" r="15.0" fill="none" stroke="#6a6a6a" stroke-width="1.1" stroke-dasharray="2.2 1.6" opacity="0.42"/><circle cx="428.0" cy="302.5" r="11.5" fill="none" stroke="#6a6a6a" stroke-width="1.1" stroke-dasharray="2 1.5" opacity="0.48"/><circle cx="428.0" cy="302.5" r="8.0" fill="none" stroke="#6a6a6a" stroke-width="1.1" stroke-dasharray="1.8 1.4" opacity="0.48"/><circle cx="428.0" cy="302.5" r="4.8" fill="none" stroke="#6a6a6a" stroke-width="1.1" stroke-dasharray="1.5 1.2" opacity="0.42"/><path d="M426.7,298.3 h2.6 v1.4 h1.4 v2.6 h-1.4 v1.4 h-2.6 v-1.4 h-1.4 v-2.6 h1.4 z" fill="#a89888"/>
<path d="M361.0,297.0 C358.0,309.0 352.0,317.0 348.0,323.0 L375.0,330.0 L396.0,317.0 C395.0,309.0 394.0,301.0 393.0,297.0 Z" fill="#252525"/><path d="M375.0,330.0 L379.0,318.0 L386.0,323.0 Z" fill="#363636"/><path d="M361.0,303.0 L348.0,323.0 L363.0,326.0 L368.0,314.0 Z" fill="#333"/><circle cx="377.0" cy="299.0" r="17" fill="url(#ledG)"/><circle cx="377.0" cy="300.5" r="15.0" fill="none" stroke="#6a6a6a" stroke-width="1.1" stroke-dasharray="2.2 1.6" opacity="0.42"/><circle cx="377.0" cy="300.5" r="11.5" fill="none" stroke="#6a6a6a" stroke-width="1.1" stroke-dasharray="2 1.5" opacity="0.48"/><circle cx="377.0" cy="300.5" r="8.0" fill="none" stroke="#6a6a6a" stroke-width="1.1" stroke-dasharray="1.8 1.4" opacity="0.48"/><circle cx="377.0" cy="300.5" r="4.8" fill="none" stroke="#6a6a6a" stroke-width="1.1" stroke-dasharray="1.5 1.2" opacity="0.42"/><path d="M375.7,296.3 h2.6 v1.4 h1.4 v2.6 h-1.4 v1.4 h-2.6 v-1.4 h-1.4 v-2.6 h1.4 z" fill="#a89888"/>
<path d="M314.0,292.0 C311.0,304.0 305.0,312.0 301.0,318.0 L328.0,325.0 L349.0,312.0 C348.0,304.0 347.0,296.0 346.0,292.0 Z" fill="#252525"/><path d="M328.0,325.0 L332.0,313.0 L339.0,318.0 Z" fill="#363636"/><path d="M314.0,298.0 L301.0,318.0 L316.0,321.0 L321.0,309.0 Z" fill="#333"/><circle cx="330.0" cy="294.0" r="17" fill="url(#ledG)"/><circle cx="330.0" cy="295.5" r="15.0" fill="none" stroke="#6a6a6a" stroke-width="1.1" stroke-dasharray="2.2 1.6" opacity="0.42"/><circle cx="330.0" cy="295.5" r="11.5" fill="none" stroke="#6a6a6a" stroke-width="1.1" stroke-dasharray="2 1.5" opacity="0.48"/><circle cx="330.0" cy="295.5" r="8.0" fill="none" stroke="#6a6a6a" stroke-width="1.1" stroke-dasharray="1.8 1.4" opacity="0.48"/><circle cx="330.0" cy="295.5" r="4.8" fill="none" stroke="#6a6a6a" stroke-width="1.1" stroke-dasharray="1.5 1.2" opacity="0.42"/><path d="M328.7,291.3 h2.6 v1.4 h1.4 v2.6 h-1.4 v1.4 h-2.6 v-1.4 h-1.4 v-2.6 h1.4 z" fill="#a89888"/>
<path d="M412.0,367.0 C409.0,379.0 403.0,387.0 399.0,393.0 L426.0,400.0 L447.0,387.0 C446.0,379.0 445.0,371.0 444.0,367.0 Z" fill="#252525"/><path d="M426.0,400.0 L430.0,388.0 L437.0,393.0 Z" fill="#363636"/><path d="M412.0,373.0 L399.0,393.0 L414.0,396.0 L419.0,384.0 Z" fill="#333"/><circle cx="428.0" cy="369.0" r="17" fill="url(#ledG)"/><circle cx="428.0" cy="370.5" r="15.0" fill="none" stroke="#6a6a6a" stroke-width="1.1" stroke-dasharray="2.2 1.6" opacity="0.42"/><circle cx="428.0" cy="370.5" r="11.5" fill="none" stroke="#6a6a6a" stroke-width="1.1" stroke-dasharray="2 1.5" opacity="0.48"/><circle cx="428.0" cy="370.5" r="8.0" fill="none" stroke="#6a6a6a" stroke-width="1.1" stroke-dasharray="1.8 1.4" opacity="0.48"/><circle cx="428.0" cy="370.5" r="4.8" fill="none" stroke="#6a6a6a" stroke-width="1.1" stroke-dasharray="1.5 1.2" opacity="0.42"/><path d="M426.7,366.3 h2.6 v1.4 h1.4 v2.6 h-1.4 v1.4 h-2.6 v-1.4 h-1.4 v-2.6 h1.4 z" fill="#a89888"/>
<path d="M360.0,363.0 C357.0,375.0 351.0,383.0 347.0,389.0 L374.0,396.0 L395.0,383.0 C394.0,375.0 393.0,367.0 392.0,363.0 Z" fill="#252525"/><path d="M374.0,396.0 L378.0,384.0 L385.0,389.0 Z" fill="#363636"/><path d="M360.0,369.0 L347.0,389.0 L362.0,392.0 L367.0,380.0 Z" fill="#333"/><circle cx="376.0" cy="365.0" r="17" fill="url(#ledG)"/><circle cx="376.0" cy="366.5" r="15.0" fill="none" stroke="#6a6a6a" stroke-width="1.1" stroke-dasharray="2.2 1.6" opacity="0.42"/><circle cx="376.0" cy="366.5" r="11.5" fill="none" stroke="#6a6a6a" stroke-width="1.1" stroke-dasharray="2 1.5" opacity="0.48"/><circle cx="376.0" cy="366.5" r="8.0" fill="none" stroke="#6a6a6a" stroke-width="1.1" stroke-dasharray="1.8 1.4" opacity="0.48"/><circle cx="376.0" cy="366.5" r="4.8" fill="none" stroke="#6a6a6a" stroke-width="1.1" stroke-dasharray="1.5 1.2" opacity="0.42"/><path d="M374.7,362.3 h2.6 v1.4 h1.4 v2.6 h-1.4 v1.4 h-2.6 v-1.4 h-1.4 v-2.6 h1.4 z" fill="#a89888"/>
<path d="M311.0,358.0 C308.0,370.0 302.0,378.0 298.0,384.0 L325.0,391.0 L346.0,378.0 C345.0,370.0 344.0,362.0 343.0,358.0 Z" fill="#252525"/><path d="M325.0,391.0 L329.0,379.0 L336.0,384.0 Z" fill="#363636"/><path d="M311.0,364.0 L298.0,384.0 L313.0,387.0 L318.0,375.0 Z" fill="#333"/><circle cx="327.0" cy="360.0" r="17" fill="url(#ledG)"/><circle cx="327.0" cy="361.5" r="15.0" fill="none" stroke="#6a6a6a" stroke-width="1.1" stroke-dasharray="2.2 1.6" opacity="0.42"/><circle cx="327.0" cy="361.5" r="11.5" fill="none" stroke="#6a6a6a" stroke-width="1.1" stroke-dasharray="2 1.5" opacity="0.48"/><circle cx="327.0" cy="361.5" r="8.0" fill="none" stroke="#6a6a6a" stroke-width="1.1" stroke-dasharray="1.8 1.4" opacity="0.48"/><circle cx="327.0" cy="361.5" r="4.8" fill="none" stroke="#6a6a6a" stroke-width="1.1" stroke-dasharray="1.5 1.2" opacity="0.42"/><path d="M325.7,357.3 h2.6 v1.4 h1.4 v2.6 h-1.4 v1.4 h-2.6 v-1.4 h-1.4 v-2.6 h1.4 z" fill="#a89888"/>
<path d="M410.0,435.0 C407.0,447.0 401.0,455.0 397.0,461.0 L424.0,468.0 L445.0,455.0 C444.0,447.0 443.0,439.0 442.0,435.0 Z" fill="#252525"/><path d="M424.0,468.0 L428.0,456.0 L435.0,461.0 Z" fill="#363636"/><path d="M410.0,441.0 L397.0,461.0 L412.0,464.0 L417.0,452.0 Z" fill="#333"/><circle cx="426.0" cy="437.0" r="17" fill="url(#ledG)"/><circle cx="426.0" cy="438.5" r="15.0" fill="none" stroke="#6a6a6a" stroke-width="1.1" stroke-dasharray="2.2 1.6" opacity="0.42"/><circle cx="426.0" cy="438.5" r="11.5" fill="none" stroke="#6a6a6a" stroke-width="1.1" stroke-dasharray="2 1.5" opacity="0.48"/><circle cx="426.0" cy="438.5" r="8.0" fill="none" stroke="#6a6a6a" stroke-width="1.1" stroke-dasharray="1.8 1.4" opacity="0.48"/><circle cx="426.0" cy="438.5" r="4.8" fill="none" stroke="#6a6a6a" stroke-width="1.1" stroke-dasharray="1.5 1.2" opacity="0.42"/><path d="M424.7,434.3 h2.6 v1.4 h1.4 v2.6 h-1.4 v1.4 h-2.6 v-1.4 h-1.4 v-2.6 h1.4 z" fill="#a89888"/>
<path d="M358.0,433.0 C355.0,445.0 349.0,453.0 345.0,459.0 L372.0,466.0 L393.0,453.0 C392.0,445.0 391.0,437.0 390.0,433.0 Z" fill="#252525"/><path d="M372.0,466.0 L376.0,454.0 L383.0,459.0 Z" fill="#363636"/><path d="M358.0,439.0 L345.0,459.0 L360.0,462.0 L365.0,450.0 Z" fill="#333"/><circle cx="374.0" cy="435.0" r="17" fill="url(#ledG)"/><circle cx="374.0" cy="436.5" r="15.0" fill="none" stroke="#6a6a6a" stroke-width="1.1" stroke-dasharray="2.2 1.6" opacity="0.42"/><circle cx="374.0" cy="436.5" r="11.5" fill="none" stroke="#6a6a6a" stroke-width="1.1" stroke-dasharray="2 1.5" opacity="0.48"/><circle cx="374.0" cy="436.5" r="8.0" fill="none" stroke="#6a6a6a" stroke-width="1.1" stroke-dasharray="1.8 1.4" opacity="0.48"/><circle cx="374.0" cy="436.5" r="4.8" fill="none" stroke="#6a6a6a" stroke-width="1.1" stroke-dasharray="1.5 1.2" opacity="0.42"/><path d="M372.7,432.3 h2.6 v1.4 h1.4 v2.6 h-1.4 v1.4 h-2.6 v-1.4 h-1.4 v-2.6 h1.4 z" fill="#a89888"/>
<path d="M306.0,427.0 C303.0,439.0 297.0,447.0 293.0,453.0 L320.0,460.0 L341.0,447.0 C340.0,439.0 339.0,431.0 338.0,427.0 Z" fill="#252525"/><path d="M320.0,460.0 L324.0,448.0 L331.0,453.0 Z" fill="#363636"/><path d="M306.0,433.0 L293.0,453.0 L308.0,456.0 L313.0,444.0 Z" fill="#333"/><circle cx="322.0" cy="429.0" r="17" fill="url(#ledG)"/><circle cx="322.0" cy="430.5" r="15.0" fill="none" stroke="#6a6a6a" stroke-width="1.1" stroke-dasharray="2.2 1.6" opacity="0.42"/><circle cx="322.0" cy="430.5" r="11.5" fill="none" stroke="#6a6a6a" stroke-width="1.1" stroke-dasharray="2 1.5" opacity="0.48"/><circle cx="322.0" cy="430.5" r="8.0" fill="none" stroke="#6a6a6a" stroke-width="1.1" stroke-dasharray="1.8 1.4" opacity="0.48"/><circle cx="322.0" cy="430.5" r="4.8" fill="none" stroke="#6a6a6a" stroke-width="1.1" stroke-dasharray="1.5 1.2" opacity="0.42"/><path d="M320.7,426.3 h2.6 v1.4 h1.4 v2.6 h-1.4 v1.4 h-2.6 v-1.4 h-1.4 v-2.6 h1.4 z" fill="#a89888"/>
<path d="M410.0,502.0 C407.0,514.0 401.0,522.0 397.0,528.0 L424.0,535.0 L445.0,522.0 C444.0,514.0 443.0,506.0 442.0,502.0 Z" fill="#252525"/><path d="M424.0,535.0 L428.0,523.0 L435.0,528.0 Z" fill="#363636"/><path d="M410.0,508.0 L397.0,528.0 L412.0,531.0 L417.0,519.0 Z" fill="#333"/><circle cx="426.0" cy="504.0" r="17" fill="url(#ledG)"/><circle cx="426.0" cy="505.5" r="15.0" fill="none" stroke="#6a6a6a" stroke-width="1.1" stroke-dasharray="2.2 1.6" opacity="0.42"/><circle cx="426.0" cy="505.5" r="11.5" fill="none" stroke="#6a6a6a" stroke-width="1.1" stroke-dasharray="2 1.5" opacity="0.48"/><circle cx="426.0" cy="505.5" r="8.0" fill="none" stroke="#6a6a6a" stroke-width="1.1" stroke-dasharray="1.8 1.4" opacity="0.48"/><circle cx="426.0" cy="505.5" r="4.8" fill="none" stroke="#6a6a6a" stroke-width="1.1" stroke-dasharray="1.5 1.2" opacity="0.42"/><path d="M424.7,501.3 h2.6 v1.4 h1.4 v2.6 h-1.4 v1.4 h-2.6 v-1.4 h-1.4 v-2.6 h1.4 z" fill="#a89888"/>
<path d="M356.0,498.0 C353.0,510.0 347.0,518.0 343.0,524.0 L370.0,531.0 L391.0,518.0 C390.0,510.0 389.0,502.0 388.0,498.0 Z" fill="#252525"/><path d="M370.0,531.0 L374.0,519.0 L381.0,524.0 Z" fill="#363636"/><path d="M356.0,504.0 L343.0,524.0 L358.0,527.0 L363.0,515.0 Z" fill="#333"/><circle cx="372.0" cy="500.0" r="17" fill="url(#ledG)"/><circle cx="372.0" cy="501.5" r="15.0" fill="none" stroke="#6a6a6a" stroke-width="1.1" stroke-dasharray="2.2 1.6" opacity="0.42"/><circle cx="372.0" cy="501.5" r="11.5" fill="none" stroke="#6a6a6a" stroke-width="1.1" stroke-dasharray="2 1.5" opacity="0.48"/><circle cx="372.0" cy="501.5" r="8.0" fill="none" stroke="#6a6a6a" stroke-width="1.1" stroke-dasharray="1.8 1.4" opacity="0.48"/><circle cx="372.0" cy="501.5" r="4.8" fill="none" stroke="#6a6a6a" stroke-width="1.1" stroke-dasharray="1.5 1.2" opacity="0.42"/><path d="M370.7,497.3 h2.6 v1.4 h1.4 v2.6 h-1.4 v1.4 h-2.6 v-1.4 h-1.4 v-2.6 h1.4 z" fill="#a89888"/>
<path d="M304.0,492.0 C301.0,504.0 295.0,512.0 291.0,518.0 L318.0,525.0 L339.0,512.0 C338.0,504.0 337.0,496.0 336.0,492.0 Z" fill="#252525"/><path d="M318.0,525.0 L322.0,513.0 L329.0,518.0 Z" fill="#363636"/><path d="M304.0,498.0 L291.0,518.0 L306.0,521.0 L311.0,509.0 Z" fill="#333"/><circle cx="320.0" cy="494.0" r="17" fill="url(#ledG)"/><circle cx="320.0" cy="495.5" r="15.0" fill="none" stroke="#6a6a6a" stroke-width="1.1" stroke-dasharray="2.2 1.6" opacity="0.42"/><circle cx="320.0" cy="495.5" r="11.5" fill="none" stroke="#6a6a6a" stroke-width="1.1" stroke-dasharray="2 1.5" opacity="0.48"/><circle cx="320.0" cy="495.5" r="8.0" fill="none" stroke="#6a6a6a" stroke-width="1.1" stroke-dasharray="1.8 1.4" opacity="0.48"/><circle cx="320.0" cy="495.5" r="4.8" fill="none" stroke="#6a6a6a" stroke-width="1.1" stroke-dasharray="1.5 1.2" opacity="0.42"/><path d="M318.7,491.3 h2.6 v1.4 h1.4 v2.6 h-1.4 v1.4 h-2.6 v-1.4 h-1.4 v-2.6 h1.4 z" fill="#a89888"/>
<path d="M434.0,583.0 L459.1,588.2 L453.0,592.1 L451.1,598.1 L443.1,598.7 L437.2,602.9 L430.1,599.9 L422.2,600.8 L418.5,595.4 L411.3,592.7 L412.1,586.6 L408.1,581.3 Z" fill="#464646"/><path d="M434.0,583.0 L453.0,592.1" stroke="#6a6a6a" stroke-width="1" opacity=".7"/><path d="M434.0,583.0 L443.1,598.7" stroke="#6a6a6a" stroke-width="1" opacity=".7"/><path d="M434.0,583.0 L430.1,599.9" stroke="#6a6a6a" stroke-width="1" opacity=".7"/><path d="M434.0,583.0 L418.5,595.4" stroke="#6a6a6a" stroke-width="1" opacity=".7"/><path d="M434.0,583.0 L412.1,586.6" stroke="#6a6a6a" stroke-width="1" opacity=".7"/><path d="M398.0,601.0 L410.0,588.0 L422.0,591.0 L416.0,605.0 Z" fill="#252525"/><path d="M410.0,588.0 L422.0,591.0 L418.0,583.0 Z" fill="#454545"/><path d="M450.0,591.0 L447.0,607.0" stroke="#3a3a3a" stroke-width="1.6"/><ellipse cx="436.0" cy="585.0" rx="3" ry="2" fill="#777"/>
<path d="M385.0,580.0 L410.1,585.2 L404.0,589.1 L402.1,595.1 L394.1,595.7 L388.2,599.9 L381.1,596.9 L373.2,597.8 L369.5,592.4 L362.3,589.7 L363.1,583.6 L359.1,578.3 Z" fill="#464646"/><path d="M385.0,580.0 L404.0,589.1" stroke="#6a6a6a" stroke-width="1" opacity=".7"/><path d="M385.0,580.0 L394.1,595.7" stroke="#6a6a6a" stroke-width="1" opacity=".7"/><path d="M385.0,580.0 L381.1,596.9" stroke="#6a6a6a" stroke-width="1" opacity=".7"/><path d="M385.0,580.0 L369.5,592.4" stroke="#6a6a6a" stroke-width="1" opacity=".7"/><path d="M385.0,580.0 L363.1,583.6" stroke="#6a6a6a" stroke-width="1" opacity=".7"/><path d="M349.0,598.0 L361.0,585.0 L373.0,588.0 L367.0,602.0 Z" fill="#252525"/><path d="M361.0,585.0 L373.0,588.0 L369.0,580.0 Z" fill="#454545"/><path d="M401.0,588.0 L398.0,604.0" stroke="#3a3a3a" stroke-width="1.6"/><ellipse cx="387.0" cy="582.0" rx="3" ry="2" fill="#777"/>
<path d="M328.0,576.0 L353.1,581.2 L347.0,585.1 L345.1,591.1 L337.1,591.7 L331.2,595.9 L324.1,592.9 L316.2,593.8 L312.5,588.4 L305.3,585.7 L306.1,579.6 L302.1,574.3 Z" fill="#464646"/><path d="M328.0,576.0 L347.0,585.1" stroke="#6a6a6a" stroke-width="1" opacity=".7"/><path d="M328.0,576.0 L337.1,591.7" stroke="#6a6a6a" stroke-width="1" opacity=".7"/><path d="M328.0,576.0 L324.1,592.9" stroke="#6a6a6a" stroke-width="1" opacity=".7"/><path d="M328.0,576.0 L312.5,588.4" stroke="#6a6a6a" stroke-width="1" opacity=".7"/><path d="M328.0,576.0 L306.1,579.6" stroke="#6a6a6a" stroke-width="1" opacity=".7"/><path d="M292.0,594.0 L304.0,581.0 L316.0,584.0 L310.0,598.0 Z" fill="#252525"/><path d="M304.0,581.0 L316.0,584.0 L312.0,576.0 Z" fill="#454545"/><path d="M344.0,584.0 L341.0,600.0" stroke="#3a3a3a" stroke-width="1.6"/><rect x="327.0" y="576.0" width="6.5" height="5" fill="#efe9b8"/><rect x="327.7" y="576.6" width="5" height="2.2" fill="#e6d23c"/>
<path d="M434.0,631.0 L459.1,636.2 L453.0,640.1 L451.1,646.1 L443.1,646.7 L437.2,650.9 L430.1,647.9 L422.2,648.8 L418.5,643.4 L411.3,640.7 L412.1,634.6 L408.1,629.3 Z" fill="#464646"/><path d="M434.0,631.0 L453.0,640.1" stroke="#6a6a6a" stroke-width="1" opacity=".7"/><path d="M434.0,631.0 L443.1,646.7" stroke="#6a6a6a" stroke-width="1" opacity=".7"/><path d="M434.0,631.0 L430.1,647.9" stroke="#6a6a6a" stroke-width="1" opacity=".7"/><path d="M434.0,631.0 L418.5,643.4" stroke="#6a6a6a" stroke-width="1" opacity=".7"/><path d="M434.0,631.0 L412.1,634.6" stroke="#6a6a6a" stroke-width="1" opacity=".7"/><path d="M398.0,649.0 L410.0,636.0 L422.0,639.0 L416.0,653.0 Z" fill="#252525"/><path d="M410.0,636.0 L422.0,639.0 L418.0,631.0 Z" fill="#454545"/><path d="M450.0,639.0 L447.0,655.0" stroke="#3a3a3a" stroke-width="1.6"/><ellipse cx="436.0" cy="633.0" rx="3" ry="2" fill="#777"/>
<path d="M380.0,629.0 L405.1,634.2 L399.0,638.1 L397.1,644.1 L389.1,644.7 L383.2,648.9 L376.1,645.9 L368.2,646.8 L364.5,641.4 L357.3,638.7 L358.1,632.6 L354.1,627.3 Z" fill="#464646"/><path d="M380.0,629.0 L399.0,638.1" stroke="#6a6a6a" stroke-width="1" opacity=".7"/><path d="M380.0,629.0 L389.1,644.7" stroke="#6a6a6a" stroke-width="1" opacity=".7"/><path d="M380.0,629.0 L376.1,645.9" stroke="#6a6a6a" stroke-width="1" opacity=".7"/><path d="M380.0,629.0 L364.5,641.4" stroke="#6a6a6a" stroke-width="1" opacity=".7"/><path d="M380.0,629.0 L358.1,632.6" stroke="#6a6a6a" stroke-width="1" opacity=".7"/><path d="M344.0,647.0 L356.0,634.0 L368.0,637.0 L362.0,651.0 Z" fill="#252525"/><path d="M356.0,634.0 L368.0,637.0 L364.0,629.0 Z" fill="#454545"/><path d="M396.0,637.0 L393.0,653.0" stroke="#3a3a3a" stroke-width="1.6"/><ellipse cx="382.0" cy="631.0" rx="3" ry="2" fill="#777"/>
<path d="M324.0,623.0 L349.1,628.2 L343.0,632.1 L341.1,638.1 L333.1,638.7 L327.2,642.9 L320.1,639.9 L312.2,640.8 L308.5,635.4 L301.3,632.7 L302.1,626.6 L298.1,621.3 Z" fill="#464646"/><path d="M324.0,623.0 L343.0,632.1" stroke="#6a6a6a" stroke-width="1" opacity=".7"/><path d="M324.0,623.0 L333.1,638.7" stroke="#6a6a6a" stroke-width="1" opacity=".7"/><path d="M324.0,623.0 L320.1,639.9" stroke="#6a6a6a" stroke-width="1" opacity=".7"/><path d="M324.0,623.0 L308.5,635.4" stroke="#6a6a6a" stroke-width="1" opacity=".7"/><path d="M324.0,623.0 L302.1,626.6" stroke="#6a6a6a" stroke-width="1" opacity=".7"/><path d="M288.0,641.0 L300.0,628.0 L312.0,631.0 L306.0,645.0 Z" fill="#252525"/><path d="M300.0,628.0 L312.0,631.0 L308.0,623.0 Z" fill="#454545"/><path d="M340.0,631.0 L337.0,647.0" stroke="#3a3a3a" stroke-width="1.6"/><ellipse cx="326.0" cy="625.0" rx="3" ry="2" fill="#777"/>
<path d="M398,143 C412,153 424,170 431,192 L436,215" fill="none" stroke="#2c2c2c" stroke-width="5"/>
<path d="M300,120.5 C330,123.5 362,128.5 382,135 C390,138 395,141 399,144.5 C380,141.5 340,137 300,133.5 Z" fill="#3d3d3d"/>
<path d="M300,129 C340,132.5 380,138 399,144.5 C380,141.5 340,137 300,133.5 Z" fill="#2a2a2a"/>
<path d="M290.4,203.4 Q365.7,210.7 441.0,212.1 L441.0,219.0 Q365.7,220.0 290.4,214.0 Z" fill="#252525"/><path d="M290.4,190.5 Q365.7,199.8 441.0,204.0 L441.0,212.4 Q365.7,211.0 290.4,203.7 Z" fill="url(#shelfG)"/>
<path d="M283.1,270.3 Q362.0,280.4 441.0,284.5 L441.0,291.0 Q362.0,288.5 283.1,279.0 Z" fill="#252525"/><path d="M283.1,260.0 Q362.0,271.0 441.0,277.0 L441.0,284.8 Q362.0,280.7 283.1,270.6 Z" fill="url(#shelfG)"/>
<path d="M278.1,338.8 Q359.6,349.2 441.0,353.5 L441.0,360.0 Q359.6,357.0 278.1,347.0 Z" fill="#252525"/><path d="M278.1,329.0 Q359.6,340.0 441.0,346.0 L441.0,353.8 Q359.6,349.5 278.1,339.1 Z" fill="url(#shelfG)"/>
<path d="M274.8,409.3 Q357.9,417.3 441.0,419.3 L441.0,425.5 Q357.9,425.2 274.8,418.0 Z" fill="#252525"/><path d="M274.8,399.0 Q357.9,408.0 441.0,412.0 L441.0,419.6 Q357.9,417.6 274.8,409.6 Z" fill="url(#shelfG)"/>
<path d="M274.3,471.9 Q357.6,483.2 441.0,488.5 L441.0,495.0 Q357.6,491.5 274.3,481.0 Z" fill="#252525"/><path d="M274.3,461.0 Q357.6,473.5 441.0,481.0 L441.0,488.8 Q357.6,483.5 274.3,472.2 Z" fill="url(#shelfG)"/>
<path d="M278.4,612.3 Q359.7,624.6 441.0,630.8 L441.0,633.0 Q359.7,627.2 278.4,614.5 Z" fill="#252525"/><path d="M278.4,602.0 Q359.7,613.8 441.0,620.5 L441.0,631.1 Q359.7,624.9 278.4,612.6 Z" fill="url(#shelfG)"/>
<path d="M281,525.5 Q360,534 441,547 L441,583.5 Q360,577 281,565 Z" fill="#2e2e2e"/>
<path d="M281,526 Q360,534.5 441,547.5" fill="none" stroke="#4c4c4c" stroke-width="1.4"/>
<path d="M281,564.5 Q360,576.5 441,583" fill="none" stroke="#3f3f3f" stroke-width="1.2"/>
<path d="M294,537.2 Q360,543 427.5,553.3 Q430.2,553.8 430,556.5 L428.8,575 Q428.5,577.8 426,577.4 Q360,571.5 294,563.2 Q291.4,562.8 291.4,560 L291.4,539.8 Q291.4,537 294,537.2 Z" fill="url(#dots2)"/>
<path d="M294,537.2 Q360,543 427.5,553.3 Q430.2,553.8 430,556.5 L428.8,575 Q428.5,577.8 426,577.4 Q360,571.5 294,563.2 Q291.4,562.8 291.4,560 L291.4,539.8 Q291.4,537 294,537.2 Z" fill="url(#stripG)"/>
<path d="M295,539.2 Q360,545 427,555.3" fill="none" stroke="#f07a80" stroke-width="1.3" opacity=".7"/>
<path d="M284,650 Q360,660 443,668 L443,682 Q360,674 284,662 Z" fill="#1a1a1a"/>
<path d="M284,650.5 Q360,660.5 443,668.5" fill="none" stroke="#444" stroke-width="1.2"/>
<path d="M303.4,116 C302.5,123.3 299.6,146.0 297.9,160.0 C296.2,174.0 295.2,183.3 293.3,200.0 C291.4,216.7 288.6,238.3 286.6,260.0 C284.6,281.7 282.6,306.7 281.1,330.0 C279.6,353.3 278.3,378.3 277.6,400.0 C276.9,421.7 276.7,438.3 276.7,460.0 C276.8,481.7 277.2,506.7 277.9,530.0 C278.5,553.3 279.5,578.0 280.6,600.0 C281.7,622.0 283.8,651.7 284.4,662.0" fill="none" stroke="#282828" stroke-width="4.5"/>
<path d="M438.5,250 L440,684" fill="none" stroke="#1a1a1a" stroke-width="4"/>
</g>
<path d="M311.0,76.0 C315.8,76.8 331.8,79.0 340.0,80.5 C348.2,82.0 352.5,83.4 360.0,85.0 C367.5,86.6 376.7,87.5 385.0,90.0 C393.3,92.5 401.7,95.8 410.0,100.0 C418.3,104.2 427.5,109.9 435.0,115.0 C442.5,120.1 449.2,124.9 455.0,130.5 C460.8,136.1 466.0,142.8 470.0,148.5 C474.0,154.2 476.8,159.8 479.0,165.0 C481.2,170.2 482.0,174.2 483.0,180.0 C484.0,185.8 484.6,193.3 485.0,200.0 C485.4,206.7 485.6,203.3 485.7,220.0 C485.8,236.7 485.5,270.0 485.5,300.0 C485.5,330.0 485.2,366.7 485.5,400.0 C485.8,433.3 486.4,470.0 487.0,500.0 C487.6,530.0 488.4,556.7 489.0,580.0 C489.6,603.3 490.2,623.7 490.5,640.0 C490.8,656.3 491.3,669.0 491.0,678.0 C490.7,687.0 490.2,689.8 488.5,694.0 C486.8,698.2 484.1,700.8 481.0,703.0 C477.9,705.2 474.3,706.2 470.0,707.5 C465.7,708.8 460.0,709.8 455.0,710.5 C450.0,711.2 449.2,711.6 440.0,711.5 C430.8,711.4 412.5,711.1 400.0,710.0 C387.5,708.9 378.3,707.2 365.0,705.0 C351.7,702.8 333.5,699.5 320.0,697.0 C306.5,694.5 290.0,691.2 284.0,690.0 L284.0,660.0 C290.0,660.8 306.5,663.0 320.0,665.0 C333.5,667.0 351.7,670.0 365.0,672.0 C378.3,674.0 389.2,675.5 400.0,677.0 C410.8,678.5 423.5,680.7 430.0,681.0 C436.5,681.3 436.8,680.7 439.0,679.0 C441.2,677.3 442.3,684.2 443.0,671.0 C443.7,657.8 443.2,628.5 443.0,600.0 C442.8,571.5 442.4,533.3 442.0,500.0 C441.6,466.7 441.0,433.3 440.5,400.0 C440.0,366.7 439.6,330.0 439.0,300.0 C438.4,270.0 437.8,237.3 437.0,220.0 C436.2,202.7 435.8,204.0 434.0,196.0 C432.2,188.0 429.3,179.3 426.0,172.0 C422.7,164.7 418.3,157.5 414.0,152.0 C409.7,146.5 405.7,143.0 400.0,139.0 C394.3,135.0 386.7,130.7 380.0,128.0 C373.3,125.3 366.7,124.5 360.0,123.0 C353.3,121.5 349.0,120.5 340.0,119.0 C331.0,117.5 311.7,114.8 306.0,114.0 Z" fill="url(#redG)"/>
<path d="M285,664 Q360,674 440,685" fill="none" stroke="#d87070" stroke-width="1" opacity=".6"/>
<path d="M509,682 Q511,692 524,691 C550,688 580,681 604,670" fill="none" stroke="#4d4d4d" stroke-width="1.3"/>
<path d="M511,596 L509,684" fill="none" stroke="#3c3c3c" stroke-width="1.2"/>
<path d="M511.4,512 L581.4,485.8 L586.2,567.2 L518.4,594.3 Z" fill="#d8161a"/>
<path d="M515.5,514.5 L578.5,490.5 L582.6,564.8 L521.8,589 Z" fill="url(#dots3)"/>
<path d="M515.5,514.5 L578.5,490.5 L582.6,564.8 L521.8,589 Z" fill="url(#sideRG)"/>
<path d="M511.4,512 L581.4,485.8 L581.8,490 L515.5,515 Z" fill="#f25a5c" opacity=".8"/>
<path d="M511.4,512 L515.5,515 L521.8,589 L518.4,594.3 Z" fill="#e83438" opacity=".8"/>
<path d="M566,528 l4,-4 l1,9 l-3,3 z M566.5,541 l3,-3 l.6,7 l-2.6,2.5 z" fill="#b01016" opacity=".8"/>
<path d="M438,100 L440,196 L464,240 L492,296 L512,360 L540,490 L550,650 L553,722" fill="none" stroke="#fff" stroke-width=".8" opacity=".22"/>
<path d="M714.7,234.2 L539.0,234.2" stroke="#f40c0c" stroke-width="2.6" stroke-dasharray="8.5 4.36" fill="none"/><circle cx="539.0" cy="234.2" r="5.7" fill="#fff" stroke="#ee1111" stroke-width="1.9"/>
<path d="M714.7,328.5 L520.0,328.5" stroke="#f40c0c" stroke-width="2.6" stroke-dasharray="8.5 4.36" fill="none"/><circle cx="520.0" cy="328.5" r="5.7" fill="#fff" stroke="#ee1111" stroke-width="1.9"/>
<path d="M714.7,422.9 L466.8,422.9" stroke="#f40c0c" stroke-width="2.6" stroke-dasharray="8.5 4.36" fill="none"/><circle cx="466.8" cy="422.9" r="5.7" fill="#fff" stroke="#ee1111" stroke-width="1.9"/>
<path d="M759.5,550.0 L553.0,550.0" stroke="#f40c0c" stroke-width="2.6" stroke-dasharray="8.5 4.36" fill="none"/><circle cx="553.0" cy="550.0" r="5.7" fill="#fff" stroke="#ee1111" stroke-width="1.9"/>
<path d="M105.5,364.2 L376.0,364.2" stroke="#f40c0c" stroke-width="2.6" stroke-dasharray="8.5 4.36" fill="none"/><circle cx="376.0" cy="364.2" r="5.7" fill="#fff" stroke="#ee1111" stroke-width="1.9"/>
<path d="M90.0,630.6 L324.0,630.6" stroke="#f40c0c" stroke-width="2.6" stroke-dasharray="8.5 4.36" fill="none"/><circle cx="324.0" cy="630.6" r="5.7" fill="#fff" stroke="#ee1111" stroke-width="1.9"/>
<text x="633.96" y="206.6" font-size="19.6" textLength="81.33" lengthAdjust="spacingAndGlyphs">CRYSTAL</text>
<text x="603.45" y="228.6" font-size="19.6" textLength="58.55" lengthAdjust="spacingAndGlyphs">CLEAR</text>
<text x="669.50" y="228.6" font-size="19.6" textLength="46.23" lengthAdjust="spacingAndGlyphs">LENS</text>
<text x="655.48" y="301.1" font-size="19.6" textLength="61.04" lengthAdjust="spacingAndGlyphs">BLACK</text>
<text x="628.47" y="321.1" font-size="19.6" textLength="88.14" lengthAdjust="spacingAndGlyphs">HOUSING</text>
<text x="627.47" y="394.9" font-size="19.6" textLength="89.29" lengthAdjust="spacingAndGlyphs">RUNNING</text>
<text x="659.50" y="415.4" font-size="19.6" textLength="55.54" lengthAdjust="spacingAndGlyphs">LIGHT</text>
<text x="655.49" y="543.0" font-size="19.6" textLength="106.03" lengthAdjust="spacingAndGlyphs">REFLECTOR</text>
<text x="103.00" y="336.6" font-size="19.6" textLength="67.35" lengthAdjust="spacingAndGlyphs">BRAKE/</text>
<text x="103.94" y="356.8" font-size="19.6" textLength="50.56" lengthAdjust="spacingAndGlyphs">TURN</text>
<text x="159.73" y="356.8" font-size="19.6" textLength="65.79" lengthAdjust="spacingAndGlyphs">SIGNAL</text>
<text x="88.50" y="623.8" font-size="19.6" textLength="77.85" lengthAdjust="spacingAndGlyphs">REVERSE</text>
</svg></body></html>
